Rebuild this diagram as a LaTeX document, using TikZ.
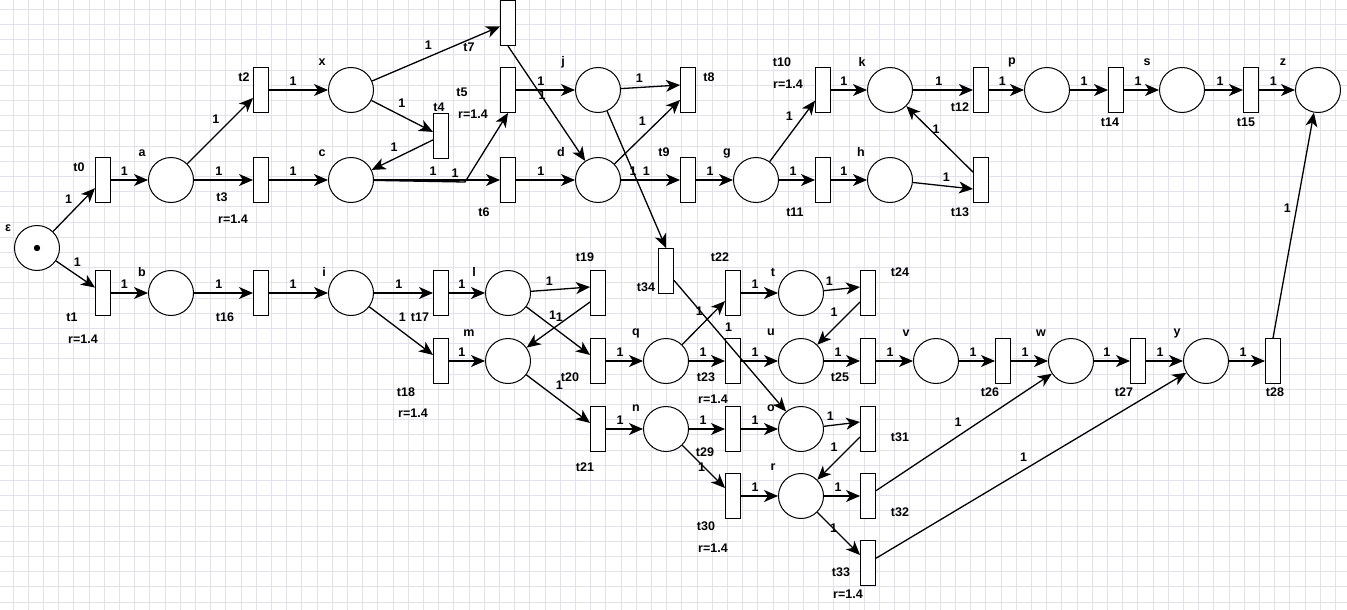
\documentclass[tikz,border=0pt]{standalone}
\usepackage{fontspec}
\setmainfont{Liberation Sans}
\usetikzlibrary{arrows.meta}

\definecolor{gridc}{RGB}{226,226,238}
\tikzset{
  place/.style={circle,draw,fill=white,line width=1pt,minimum size=45pt,inner sep=0pt},
  trans/.style={rectangle,draw,fill=white,line width=1pt,minimum width=15pt,minimum height=45pt,inner sep=0pt},
  lbl/.style={font=\fontsize{12.5}{14}\selectfont\bfseries,inner sep=0pt},
  wt/.style={font=\fontsize{12.5}{14}\selectfont\bfseries,inner sep=3.5pt,pos=#1},
  wt/.default=0.4,
  online/.style={anchor=center,inner sep=0pt}
}

\begin{document}
\begin{tikzpicture}[x=1pt,y=-1pt,->,>={Stealth[length=14pt,width=12pt,inset=4pt]},auto,line width=1.3pt]
\useasboundingbox (0,0) rectangle (1347,610);
\foreach \i in {0,...,87} \draw[-,gridc,line width=0.7pt] ({12.9+15.2*\i},0) -- ({12.9+15.2*\i},610);
\foreach \i in {0,...,39} \draw[-,gridc,line width=0.7pt] (0,{9.2+15.2*\i}) -- (1347,{9.2+15.2*\i});

\node[place] (eps) at (37,248) {};
\fill[-] (eps.center) circle (3.2pt);
\node[place] (a) at (171,180) {};
\node[place] (x) at (351,90) {};
\node[place] (c) at (351,180) {};
\node[place] (b) at (171,293) {};
\node[place] (i) at (351,293) {};
\node[place] (j) at (598,90) {};
\node[place] (d) at (598,180) {};
\node[place] (g) at (756,180) {};
\node[place] (k) at (890,90) {};
\node[place] (h) at (890,180) {};
\node[place] (p) at (1047,90) {};
\node[place] (s) at (1182,90) {};
\node[place] (z) at (1318,90) {};
\node[place] (l) at (508,293) {};
\node[place] (m) at (508,361) {};
\node[place] (q) at (666,361) {};
\node[place] (n) at (666,429) {};
\node[place] (t) at (801,293) {};
\node[place] (u) at (801,361) {};
\node[place] (o) at (801,429) {};
\node[place] (r) at (801,496) {};
\node[place] (v) at (936,361) {};
\node[place] (w) at (1071,361) {};
\node[place] (y) at (1206,361) {};

\node[trans] (t0) at (103,180) {};
\node[trans] (t1) at (103,293) {};
\node[trans] (t2) at (261,90) {};
\node[trans] (t3) at (261,180) {};
\node[trans] (t4) at (441,136) {};
\node[trans] (t5) at (508,90) {};
\node[trans] (t6) at (508,180) {};
\node[trans] (t7) at (508,23) {};
\node[trans] (t8) at (688,90) {};
\node[trans] (t9) at (688,180) {};
\node[trans] (t10) at (823,90) {};
\node[trans] (t11) at (823,180) {};
\node[trans] (t12) at (981,90) {};
\node[trans] (t13) at (981,180) {};
\node[trans] (t14) at (1116,90) {};
\node[trans] (t15) at (1251,90) {};
\node[trans] (t16) at (261,293) {};
\node[trans] (t17) at (441,293) {};
\node[trans] (t18) at (441,361) {};
\node[trans] (t19) at (598,293) {};
\node[trans] (t20) at (598,361) {};
\node[trans] (t21) at (598,429) {};
\node[trans] (t22) at (733,293) {};
\node[trans] (t23) at (733,361) {};
\node[trans] (t24) at (868,293) {};
\node[trans] (t25) at (868,361) {};
\node[trans] (t26) at (1003,361) {};
\node[trans] (t27) at (1138,361) {};
\node[trans] (t28) at (1273,361) {};
\node[trans] (t29) at (733,429) {};
\node[trans] (t30) at (733,496) {};
\node[trans] (t31) at (868,429) {};
\node[trans] (t32) at (868,496) {};
\node[trans] (t33) at (868,563) {};
\node[trans] (t34) at (666,271) {};

\node[lbl] (eps-l) at (8,228) {ε};
\node[lbl] (a-l) at (142,153) {a};
\node[lbl] (x-l) at (322,62) {x};
\node[lbl] (c-l) at (322,153) {c};
\node[lbl] (b-l) at (142,272) {b};
\node[lbl] (i-l) at (324,272) {i};
\node[lbl] (j-l) at (563,62) {j};
\node[lbl] (d-l) at (561,152) {d};
\node[lbl] (g-l) at (727,153) {g};
\node[lbl] (k-l) at (862,62) {k};
\node[lbl] (h-l) at (861,152) {h};
\node[lbl] (p-l) at (1012,62) {p};
\node[lbl] (s-l) at (1147,62) {s};
\node[lbl] (z-l) at (1283,62) {z};
\node[lbl] (l-l) at (474,272) {l};
\node[lbl] (m-l) at (469,333) {m};
\node[lbl] (q-l) at (636,333) {q};
\node[lbl] (n-l) at (636,408) {n};
\node[lbl] (t-l) at (773,272) {t};
\node[lbl] (u-l) at (771,332) {u};
\node[lbl] (o-l) at (771,408) {o};
\node[lbl] (r-l) at (773,467) {r};
\node[lbl] (v-l) at (906,333) {v};
\node[lbl] (w-l) at (1041,333) {w};
\node[lbl] (y-l) at (1177,333) {y};

\node[lbl] (t0-l) at (79,167) {t0};
\node[lbl] (t1-l) at (72,317) {t1};
\node[lbl] (t1-r) at (83,339) {r=1.4};
\node[lbl] (t2-l) at (244,77) {t2};
\node[lbl] (t3-l) at (222,197) {t3};
\node[lbl] (t3-r) at (233,219) {r=1.4};
\node[lbl] (t4-l) at (439,107) {t4};
\node[lbl] (t5-l) at (462,92) {t5};
\node[lbl] (t5-r) at (473,114) {r=1.4};
\node[lbl] (t6-l) at (484,212) {t6};
\node[lbl] (t7-l) at (469,47) {t7};
\node[lbl] (t8-l) at (709,77) {t8};
\node[lbl] (t9-l) at (664,152) {t9};
\node[lbl] (t10-l) at (782,62) {t10};
\node[lbl] (t10-r) at (788,84) {r=1.4};
\node[lbl] (t11-l) at (795,212) {t11};
\node[lbl] (t12-l) at (960,107) {t12};
\node[lbl] (t13-l) at (960,212) {t13};
\node[lbl] (t14-l) at (1110,122) {t14};
\node[lbl] (t15-l) at (1246,122) {t15};
\node[lbl] (t16-l) at (225,317) {t16};
\node[lbl] (t17-l) at (420,317) {t17};
\node[lbl] (t18-l) at (406,392) {t18};
\node[lbl] (t18-r) at (413,413) {r=1.4};
\node[lbl] (t19-l) at (585,257) {t19};
\node[lbl] (t20-l) at (570,377) {t20};
\node[lbl] (t21-l) at (585,467) {t21};
\node[lbl] (t22-l) at (720,257) {t22};
\node[lbl] (t23-l) at (706,377) {t23};
\node[lbl] (t23-r) at (713,399) {r=1.4};
\node[lbl] (t24-l) at (900,272) {t24};
\node[lbl] (t25-l) at (840,377) {t25};
\node[lbl] (t26-l) at (990,392) {t26};
\node[lbl] (t27-l) at (1124,392) {t27};
\node[lbl] (t28-l) at (1275,392) {t28};
\node[lbl] (t29-l) at (705,452) {t29};
\node[lbl] (t30-l) at (706,526) {t30};
\node[lbl] (t30-r) at (713,548) {r=1.4};
\node[lbl] (t31-l) at (900,437) {t31};
\node[lbl] (t32-l) at (900,512) {t32};
\node[lbl] (t33-l) at (841,572) {t33};
\node[lbl] (t33-r) at (848,594) {r=1.4};
\node[lbl] (t34-l) at (646,287) {t34};

\coordinate (cc) at (465,182);
\draw (c) -- node[wt=.89] {1} (cc) -- (t5.south);

\path
 (eps) edge node[wt=.55] {1} (t0)
 (eps) edge node[wt=.35] {1} (t1)
 (t0) edge node[wt=.36] {1} (a)
 (a) edge node[wt=.55] {1} (t2)
 (a) edge node[wt=.42] {1} (t3)
 (t2) edge node[wt=.41] {1} (x)
 (t3) edge node[wt=.41] {1} (c)
 (x) edge node[wt=.5] {1} (t7)
 (x) edge node[wt=.37] {1} (t4)
 (t4) edge node[wt=.51,swap] {1} (c)
 (c) edge node[wt=.47] {1} (t6)
 (t5) edge node[wt=.42] {1} (j)
 (t7.south) edge node[wt=.43,online,xshift=1pt] {1} (d)
 (t6) edge node[wt=.42] {1} (d)
 (j) edge node[wt=.44] {1} ([yshift=5pt]t8.west)
 (d) edge node[wt=.54] {1} ([yshift=-10pt]t8.west)
 (d) edge node[wt=.43] {1} (t9)
 (j) edge node[wt=.44,online] {1} (t34.north)
 (t9) edge node[wt=.38] {1} (g)
 (g) edge node[wt=.6] {1} (t10)
 (g) edge node[wt=.39] {1} (t11)
 (t10) edge node[wt=.36] {1} (k)
 (t11) edge node[wt=.36] {1} (h)
 (k) edge node[wt=.43] {1} (t12)
 (h) edge node[wt=.43] {1} ([yshift=-9pt]t13.west)
 (t13) edge node[wt=.6,online,xshift=3pt,yshift=3pt] {1} (k)
 (t12) edge node[wt=.38] {1} (p)
 (p) edge node[wt=.37] {1} (t14)
 (t14) edge node[wt=.4] {1} (s)
 (s) edge node[wt=.4] {1} (t15)
 (t15) edge node[wt=.4] {1} (z)
 (t28.north) edge node[wt=.54] {1} (z);

\path
 (t1) edge node[wt=.36] {1} (b)
 (b) edge node[wt=.42] {1} (t16)
 (t16) edge node[wt=.41] {1} (i)
 (i) edge node[wt=.42] {1} (t17)
 (i) edge node[wt=.4] {1} (t18)
 (t17) edge node[wt=.36] {1} (l)
 (t18) edge node[wt=.36] {1} (m)
 (l) edge node[wt=.44] {1} ([yshift=6pt]t19.west)
 ([yshift=-9pt]t19.west) edge node[wt=.47,swap] {1} (m)
 (l) edge node[wt=.4] {1} (t20)
 (m) edge node[wt=.4] {1} (t21)
 (t20) edge node[wt=.38] {1} (q)
 (t21) edge node[wt=.38] {1} (n)
 (q) edge node[wt=.58] {1} (t22)
 (q) edge node[wt=.39] {1} (t23)
 (t34) edge node[wt=.42] {1} (o)
 (t22) edge node[wt=.38] {1} (t)
 (t23) edge node[wt=.38] {1} (u)
 (t) edge node[wt=.36] {1} ([yshift=6pt]t24.west)
 ([yshift=-9pt]t24.west) edge node[wt=.43,swap] {1} (u)
 (u) edge node[wt=.39] {1} (t25)
 (t25) edge node[wt=.38] {1} (v)
 (v) edge node[wt=.39] {1} (t26)
 (t26) edge node[wt=.38] {1} (w)
 (w) edge node[wt=.36] {1} (t27)
 (t27) edge node[wt=.38] {1} (y)
 (y) edge node[wt=.39] {1} (t28)
 (n) edge node[wt=.39] {1} (t29)
 (n) edge node[wt=.52,online,xshift=-3pt] {1} (t30)
 (t29) edge node[wt=.38] {1} (o)
 (o) edge node[wt=.39] {1} ([yshift=7pt]t31.west)
 ([yshift=-8pt]t31.west) edge node[wt=.43,swap] {1} (r)
 (t30) edge node[wt=.38] {1} (r)
 (r) edge node[wt=.39] {1} (t32)
 (r) edge node[wt=.38,online] {1} (t33)
 (t32) edge node[wt=.51] {1} (w)
 (t33) edge node[wt=.5] {1} (y);
\end{tikzpicture}
\end{document}
